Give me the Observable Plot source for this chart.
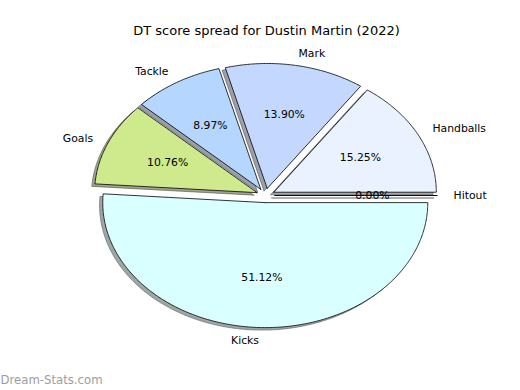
<!DOCTYPE html>
<html>
<head>
<meta charset="utf-8">
<script src="https://cdn.jsdelivr.net/npm/d3@7"></script>
<script src="https://cdn.jsdelivr.net/npm/@observablehq/plot@0.6"></script>
<style>
  html, body { margin: 0; padding: 0; background: #fff; }
  #chart svg { display: block; font-family: "DejaVu Sans", sans-serif; }
</style>
</head>
<body>
<div id="chart"></div>
<script>
const title = "DT score spread for Dustin Martin (2022)";
const watermark = "Dream-Stats.com";
const labels = ["Handballs", "Mark", "Tackle", "Goals", "Kicks", "Hitout"];
const values = [15.25, 13.90, 8.97, 10.76, 51.12, 0.00];
const colors = ["#ebf2ff", "#c4d8ff", "#b4d6ff", "#cfea8c", "#d9ffff", "#e0ffe0"];
const explode = [0.057, 0.057, 0.057, 0.057, 0.057, 0.057];

const total = d3.sum(values);
let start = 0;
const slices = values.map((v, i) => {
  const a0 = start;
  const a1 = start + (v / total) * 2 * Math.PI;
  start = a1;
  const mid = (a0 + a1) / 2;
  const cx = explode[i] * Math.cos(mid);
  const cy = explode[i] * Math.sin(mid);
  const pts = [[cx, cy]];
  const n = Math.max(1, Math.ceil((a1 - a0) / 0.01));
  for (let k = 0; k <= n; k++) {
    const a = a0 + (a1 - a0) * k / n;
    pts.push([cx + Math.cos(a), cy + Math.sin(a)]);
  }
  pts.push([cx, cy]);
  return {label: labels[i], value: v, color: colors[i], mid, cx, cy, pts};
});

const shadowColor = (c) => {
  const r = d3.rgb(c);
  return d3.rgb(r.r * 0.3, r.g * 0.3, r.b * 0.3).formatHex();
};

const marks = [];
// shadows
for (const s of slices) {
  marks.push(Plot.line(s.pts.map(p => [p[0] - 0.02, p[1] - 0.02]), {
    x: d => d[0], y: d => d[1],
    fill: shadowColor(s.color), stroke: shadowColor(s.color),
    fillOpacity: 0.5, strokeOpacity: 0.5, strokeWidth: 1
  }));
}
// wedges
for (const s of slices) {
  marks.push(Plot.line(s.pts, {
    x: d => d[0], y: d => d[1],
    fill: s.color, stroke: "black", strokeWidth: 0.8, strokeLinejoin: "round"
  }));
}
const labelData = slices.map(s => ({
  text: s.label,
  x: s.cx + 1.1 * Math.cos(s.mid),
  y: s.cy + 1.1 * Math.sin(s.mid)
}));
marks.push(Plot.text(labelData.filter(d => d.x > 0), {
  x: "x", y: "y", text: "text", textAnchor: "start", lineAnchor: "middle",
  fontSize: 10.8, fill: "black"
}));
marks.push(Plot.text(labelData.filter(d => d.x <= 0), {
  x: "x", y: "y", text: "text", textAnchor: "end", lineAnchor: "middle",
  fontSize: 10.8, fill: "black"
}));
marks.push(Plot.text(slices, {
  x: s => s.cx + 0.6 * Math.cos(s.mid),
  y: s => s.cy + 0.6 * Math.sin(s.mid),
  text: s => s.value.toFixed(2) + "%",
  textAnchor: "middle", lineAnchor: "middle", fontSize: 10.8, fill: "black"
}));
marks.push(Plot.text([title], {
  frameAnchor: "top", text: d => d, dx: 6, dy: 30, lineAnchor: "middle",
  fontSize: 13, fill: "black"
}));
marks.push(Plot.text([watermark], {
  frameAnchor: "bottom-left", text: d => d, dx: 0, dy: -10, lineAnchor: "middle",
  textAnchor: "start", fontSize: 11.7, fill: "#9e9e9e"
}));

const CX = 265.1, CY = 195, RX = 162.5, RY = 125;
const chart = Plot.plot({
  width: 520,
  height: 390,
  margin: 0,
  x: {domain: [-CX / RX, (520 - CX) / RX], range: [0, 520], axis: null},
  y: {domain: [-(390 - CY) / RY, CY / RY], range: [390, 0], axis: null},
  style: {background: "#fff", fontFamily: "DejaVu Sans, sans-serif"},
  marks
});
document.getElementById("chart").appendChild(chart);
</script>
</body>
</html>
